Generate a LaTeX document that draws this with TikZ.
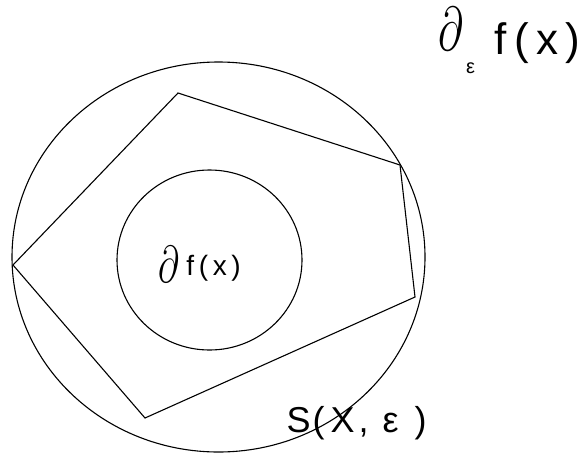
\RequirePackage{fix-cm}
\documentclass[tikz,border=0pt]{standalone}
\usepackage{fontspec}
\setmainfont{Liberation Sans}
\newcommand\labelsize[1]{\fontsize{#1}{#1}\selectfont}
\newcommand\thinpartial[1]{{\labelsize{#1}\scalebox{0.7}[1]{$\partial$}}}

\begin{document}
\begin{tikzpicture}[x=1pt, y=-1pt, line width=1.1pt,
    setlabel/.style={inner sep=0pt, anchor=base west}]
    \useasboundingbox (0,0) rectangle (585,455);

    % the ball S(x, eps)
    \draw (218.5,257) ellipse [x radius=206.5, y radius=195];

    % polytope between the two sets
    \coordinate (top) at (178,93);
    \coordinate (rtop) at (400,165);
    \coordinate (rbot) at (415,297);
    \coordinate (bot) at (145,418);
    \coordinate (left) at (13,265);
    \draw (top) -- (rtop) -- (rbot) -- (bot) -- (left) -- cycle;

    % subdifferential
    \draw (209.5,260) ellipse [x radius=92.5, y radius=90];

    \node[setlabel] (sub) at (158,275)
        {\raisebox{-7pt}{\thinpartial{52}}\hspace{7pt}{\labelsize{28}f\,(\,x\,)}};
    \node[setlabel, anchor=base east] (epssub) at (581,54)
        {\raisebox{4pt}{\thinpartial{62}}\hspace{3pt}\raisebox{-19pt}{\labelsize{20}ε}\hspace{20pt}{\labelsize{44}f\,(\,x\,)}};
    \node[setlabel] (ball) at (286,432)
        {\labelsize{36}S\hspace{2pt}(\hspace{6pt}X\hspace{4pt},\hspace{14pt}ε\hspace{16pt})};
\end{tikzpicture}
\end{document}
